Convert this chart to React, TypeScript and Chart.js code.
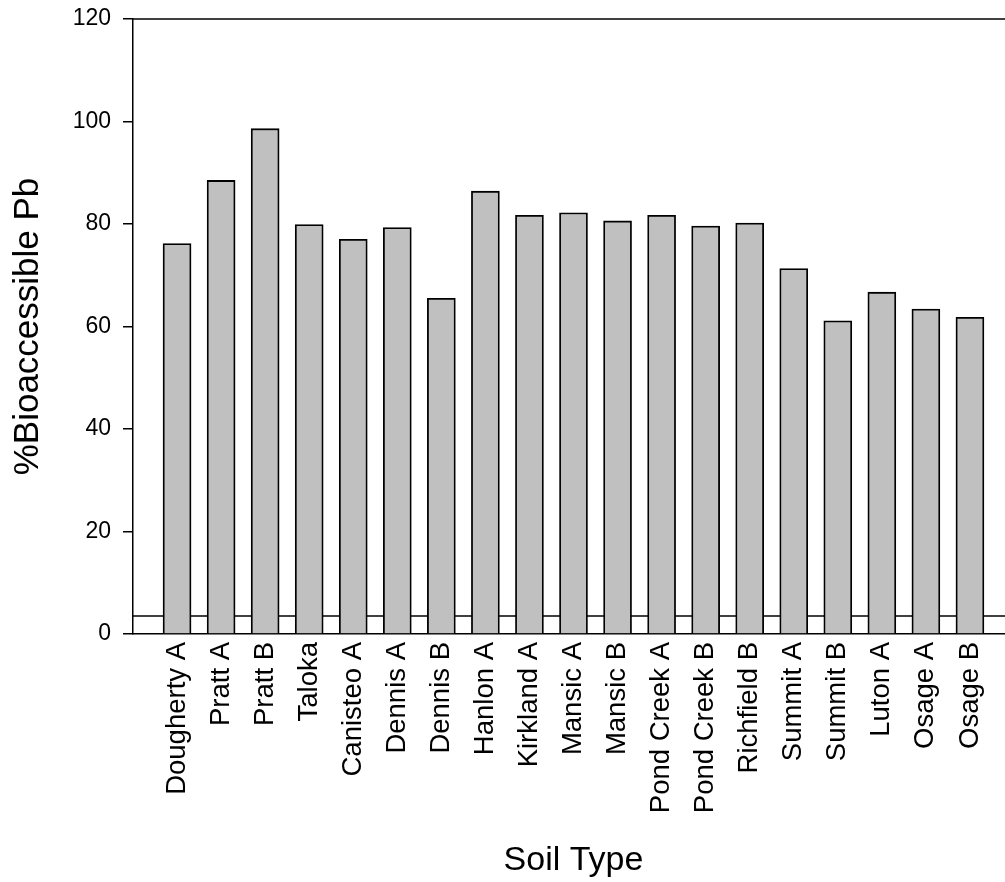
import React, { useEffect, useRef } from "react";
import { Chart, registerables } from "chart.js";

Chart.register(...registerables);

const CATEGORIES = [
  "Dougherty A", "Pratt A", "Pratt B", "Taloka", "Canisteo A", "Dennis A",
  "Dennis B", "Hanlon A", "Kirkland A", "Mansic A", "Mansic B", "Pond Creek A",
  "Pond Creek B", "Richfield B", "Summit A", "Summit B", "Luton A", "Osage A", "Osage B",
];
const BIOACCESSIBLE_PB = [
  76.2, 88.5, 98.6, 79.9, 77.0, 79.3, 65.5, 86.4, 81.7, 82.2,
  80.6, 81.7, 79.6, 80.2, 71.3, 61.1, 66.7, 63.4, 61.8,
];
const REFERENCE_LEVEL = 3.5;
const Y_TICKS = [0, 20, 40, 60, 80, 100, 120];
const X_MIN = 0;
const X_MAX = 20;

const FONT = "'Liberation Sans', Arial, Helvetica, sans-serif";
const CANVAS_W = 1014;
const CANVAS_H = 882;

const topFrame = {
  id: "topFrame",
  afterDatasetsDraw(chart: any) {
    const { ctx, chartArea } = chart;
    ctx.save();
    ctx.strokeStyle = "#000";
    ctx.lineWidth = 1.5;
    ctx.beginPath();
    ctx.moveTo(chartArea.left, chartArea.top);
    ctx.lineTo(chartArea.right, chartArea.top);
    ctx.stroke();
    ctx.restore();
  },
};

export default function App() {
  const ref = useRef<HTMLCanvasElement | null>(null);

  useEffect(() => {
    if (!ref.current) return;
    const chart = new Chart(ref.current, {
      type: "bar",
      data: {
        datasets: [
          {
            type: "bar",
            label: "%Bioaccessible Pb",
            data: BIOACCESSIBLE_PB.map((v, i) => ({ x: i + 1, y: v })),
            backgroundColor: "#c0c0c0",
            borderColor: "#000",
            borderWidth: 1.8,
            barThickness: 28,
            order: 0,
          } as any,
          {
            type: "line",
            label: "reference",
            data: [
              { x: X_MIN, y: REFERENCE_LEVEL },
              { x: X_MAX, y: REFERENCE_LEVEL },
            ],
            borderColor: "#000",
            borderWidth: 1.5,
            pointRadius: 0,
            fill: false,
            order: 1,
          } as any,
        ],
      },
      options: {
        responsive: false,
        animation: false,
        devicePixelRatio: 1,
        layout: { padding: { top: 19, left: 0, right: 0, bottom: 0 } },
        plugins: { legend: { display: false }, tooltip: { enabled: false } },
        scales: {
          x: {
            type: "linear",
            min: X_MIN,
            max: X_MAX,
            offset: false,
            afterBuildTicks: (scale: any) => {
              scale.ticks = CATEGORIES.map((_, i) => ({ value: i + 1 }));
            },
            afterFit: (scale: any) => {
              scale.height = CANVAS_H - 634;
              scale.paddingLeft = 0;
              scale.paddingRight = 0;
            },
            grid: { display: true, drawOnChartArea: false, drawTicks: false, offset: false },
            border: { display: true, color: "#000", width: 1.5 },
            ticks: {
              autoSkip: false,
              minRotation: 90,
              maxRotation: 90,
              padding: 8,
              color: "#000",
              font: { family: FONT, size: 27.5 },
              callback: (value: any) => {
                const idx = Number(value) - 1;
                return Number.isInteger(idx) && idx >= 0 && idx < CATEGORIES.length ? CATEGORIES[idx] : "";
              },
            },
            title: {
              display: true,
              text: "Soil Type",
              color: "#000",
              font: { family: FONT, size: 34 },
              padding: { top: 0, bottom: 1 },
            },
          },
          y: {
            type: "linear",
            min: 0,
            max: 120,
            afterBuildTicks: (scale: any) => {
              scale.ticks = Y_TICKS.map((v) => ({ value: v }));
            },
            afterFit: (scale: any) => {
              scale.width = 133;
              scale.paddingTop = 0;
              scale.paddingBottom = 0;
            },
            grid: { display: true, drawOnChartArea: false, drawTicks: true, tickLength: 10, color: "#000", lineWidth: 1.5 },
            border: { display: true, color: "#000", width: 1.5 },
            ticks: {
              padding: 12,
              color: "#000",
              font: { family: FONT, size: 23 },
            },
            title: {
              display: true,
              text: "%Bioaccessible Pb",
              color: "#000",
              font: { family: FONT, size: 35 },
              padding: { top: 7, bottom: 0 },
            },
          },
        },
      },
      plugins: [topFrame],
    } as any);
    return () => chart.destroy();
  }, []);

  return (
    <div style={{ position: "fixed", left: 0, top: 0, width: 1005, height: CANVAS_H, overflow: "hidden", background: "#fff" }}>
      <canvas ref={ref} width={CANVAS_W} height={CANVAS_H} style={{ display: "block", width: CANVAS_W, height: CANVAS_H }} />
    </div>
  );
}
